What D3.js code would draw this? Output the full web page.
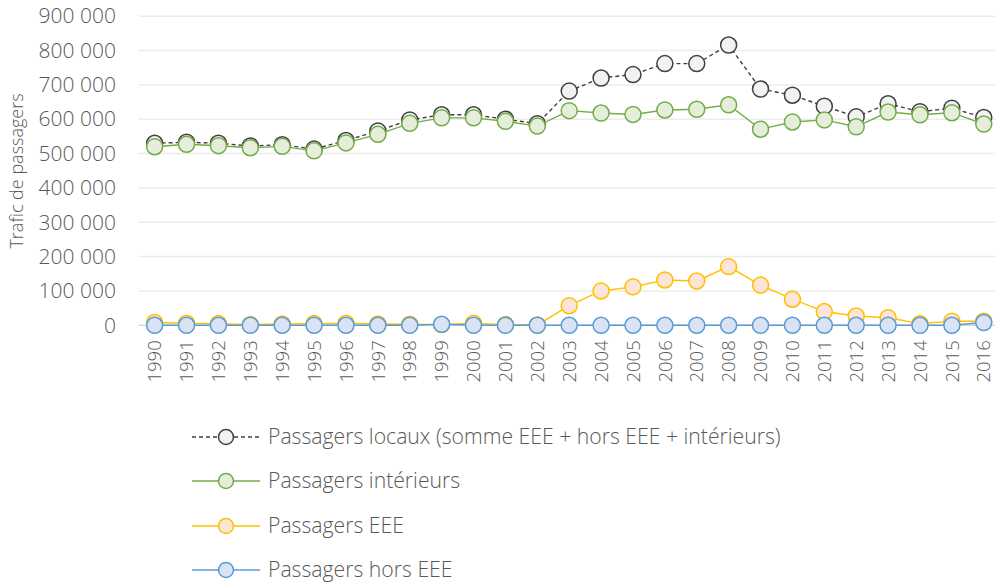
<!DOCTYPE html>
<html>
<head>
<meta charset="utf-8">
<script src="https://cdn.jsdelivr.net/npm/d3@7"></script>
<style>
  html, body { margin: 0; padding: 0; background: #fff; }
  svg { display: block; font-family: "Open Sans", sans-serif; font-weight: 300; }
</style>
</head>
<body>
<svg id="chart" width="995" height="584"></svg>
<script>
const years = ["1990","1991","1992","1993","1994","1995","1996","1997","1998","1999","2000","2001","2002","2003","2004","2005","2006","2007","2008","2009","2010","2011","2012","2013","2014","2015","2016"];
const locaux = [530000,533000,530000,522000,526000,513000,538000,566000,598000,613000,613000,600000,587000,682000,720000,730000,762000,762000,816000,688000,670000,638000,607000,645000,622000,632000,605000];
const interieurs = [520000,527000,523000,517000,521000,508000,531000,556000,588000,604000,604000,594000,580000,625000,618000,614000,627000,629000,642000,571000,592000,598000,578000,621000,613000,619000,586000];
const eee = [8000,6000,5000,2000,4000,5000,6000,4000,3000,2000,6000,2000,1000,57000,100000,112000,132000,129000,171000,117000,76000,40000,27000,22000,5000,12000,12000];
const horsEee = [0,0,0,0,0,0,0,0,0,3000,0,0,0,0,0,0,0,0,0,0,0,0,0,0,0,0,8000];
const yTicks = [0,100000,200000,300000,400000,500000,600000,700000,800000,900000];

const seriesList = [
  { name: "Passagers locaux (somme EEE + hors EEE + intérieurs)", values: locaux, stroke: "#404040", fill: "#f2f2f2", dash: "4,3" },
  { name: "Passagers intérieurs", values: interieurs, stroke: "#70ad47", fill: "#e6eedb", dash: null },
  { name: "Passagers EEE", values: eee, stroke: "#ffc000", fill: "#fce4d6", dash: null },
  { name: "Passagers hors EEE", values: horsEee, stroke: "#5b9bd5", fill: "#dae3f3", dash: null }
];

const svg = d3.select("#chart");
const plotLeft = 138.7, plotRight = 999.7, plotTop = 16.2, plotBottom = 325.3;
const textColor = "#595959";

const x = d3.scaleBand().domain(years).range([plotLeft, plotRight]);
const xc = d => x(d) + x.bandwidth() / 2;
const y = d3.scaleLinear().domain([0, 900000]).range([plotBottom, plotTop]);

const fmt = v => d3.format(",")(v).replace(/,/g, "\u00a0");

// horizontal gridlines
svg.append("g").selectAll("line").data(yTicks).join("line")
  .attr("x1", plotLeft).attr("x2", 995)
  .attr("y1", d => y(d)).attr("y2", d => y(d))
  .attr("stroke", d => d === 0 ? "#d9d9d9" : "#ececec")
  .attr("stroke-width", 1.5);

// y axis labels
const yAxis = d3.axisLeft(y).tickValues(yTicks).tickFormat(fmt).tickSize(0).tickPadding(0);
const gy = svg.append("g").attr("transform", `translate(116,0)`).call(yAxis);
gy.select(".domain").remove();
gy.selectAll("text").attr("font-family", "Open Sans, sans-serif").attr("font-weight", 300)
  .attr("font-size", 21).attr("fill", textColor);

// x axis labels, rotated
const xAxis = d3.axisBottom(x).tickSize(0).tickPadding(0);
const gx = svg.append("g").attr("transform", `translate(0,${plotBottom})`).call(xAxis);
gx.select(".domain").remove();
gx.selectAll("text")
  .attr("font-family", "Open Sans, sans-serif").attr("font-weight", 300)
  .attr("font-size", 18.5).attr("fill", textColor)
  .attr("text-anchor", "end")
  .attr("transform", "rotate(-90)")
  .attr("x", -15).attr("y", 0).attr("dy", "0.36em");

// y axis title
svg.append("text")
  .attr("transform", "translate(23,171) rotate(-90)")
  .attr("text-anchor", "middle")
  .attr("font-size", 18).attr("fill", textColor)
  .text("Trafic de passagers");

// series lines and markers
const line = d3.line().x((d, i) => xc(years[i])).y(d => y(d));
seriesList.forEach(s => {
  const g = svg.append("g");
  g.append("path").datum(s.values)
    .attr("d", line).attr("fill", "none")
    .attr("stroke", s.stroke).attr("stroke-width", 1.4)
    .attr("stroke-dasharray", s.dash);
  g.selectAll("circle").data(s.values).join("circle")
    .attr("cx", (d, i) => xc(years[i])).attr("cy", d => y(d))
    .attr("r", 8).attr("fill", s.fill)
    .attr("stroke", s.stroke).attr("stroke-width", 1.5);
});

// legend
const legendY = [437, 481, 526, 570];
const lg = svg.append("g").selectAll("g").data(seriesList).join("g")
  .attr("transform", (d, i) => `translate(0,${legendY[i]})`);
lg.append("line").attr("x1", 192).attr("x2", 260).attr("y1", 0).attr("y2", 0)
  .attr("stroke", d => d.stroke).attr("stroke-width", 1.4)
  .attr("stroke-dasharray", d => d.dash);
lg.append("circle").attr("cx", 226).attr("cy", 0).attr("r", 7.5)
  .attr("fill", d => d.fill).attr("stroke", d => d.stroke).attr("stroke-width", 1.5);
lg.append("text").attr("x", 268).attr("y", 0).attr("dy", "0.35em")
  .attr("font-size", 21.2).attr("fill", textColor)
  .text(d => d.name);
</script>
</body>
</html>
